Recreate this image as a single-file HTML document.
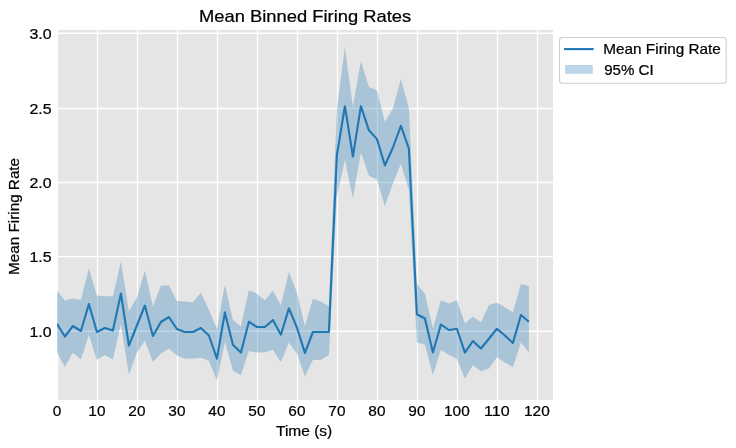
<!DOCTYPE html>
<html><head><meta charset="utf-8"><title>Mean Binned Firing Rates</title>
<style>
html,body{margin:0;padding:0;background:#fff;}
body{width:736px;height:448px;overflow:hidden;font-family:"Liberation Sans",sans-serif;}
svg{display:block;will-change:transform;}
text{font-family:"Liberation Sans",sans-serif;fill:#000000;stroke:#000000;stroke-width:0.22px;}
.tick text{font-size:14.1px;}
</style></head><body>
<svg width="736" height="448" viewBox="0 0 736 448">
<rect x="0" y="0" width="736" height="448" fill="#ffffff"/>
<rect x="57" y="30" width="496" height="370" fill="#e5e5e5"/>
<g stroke="#ffffff" stroke-width="1.3"><line x1="57.5" y1="30" x2="57.5" y2="400"/><line x1="97.5" y1="30" x2="97.5" y2="400"/><line x1="137.5" y1="30" x2="137.5" y2="400"/><line x1="177.5" y1="30" x2="177.5" y2="400"/><line x1="217.5" y1="30" x2="217.5" y2="400"/><line x1="257.5" y1="30" x2="257.5" y2="400"/><line x1="297.5" y1="30" x2="297.5" y2="400"/><line x1="337.5" y1="30" x2="337.5" y2="400"/><line x1="377.5" y1="30" x2="377.5" y2="400"/><line x1="417.5" y1="30" x2="417.5" y2="400"/><line x1="457.5" y1="30" x2="457.5" y2="400"/><line x1="497.5" y1="30" x2="497.5" y2="400"/><line x1="537.5" y1="30" x2="537.5" y2="400"/><line x1="57" y1="331.25" x2="553" y2="331.25"/><line x1="57" y1="256.6" x2="553" y2="256.6"/><line x1="57" y1="182.5" x2="553" y2="182.5"/><line x1="57" y1="108.5" x2="553" y2="108.5"/><line x1="57" y1="33.25" x2="553" y2="33.25"/></g>
<clipPath id="c"><rect x="57" y="30" width="496" height="370"/></clipPath>
<g clip-path="url(#c)">
<polygon points="56.90,290.40 64.90,300.40 72.90,298.50 80.90,300.00 88.90,268.50 96.90,295.40 104.90,296.25 112.90,296.25 120.90,261.60 128.90,311.50 136.90,297.40 144.90,270.60 152.90,306.50 160.90,285.50 168.90,285.50 176.90,301.00 184.90,301.50 192.90,302.20 200.90,292.70 208.90,309.80 216.90,329.00 224.90,284.80 232.90,320.00 240.90,326.50 248.90,290.30 256.90,293.70 264.90,300.30 272.90,290.50 280.90,305.60 288.90,271.80 296.90,292.50 304.90,326.25 312.90,298.90 320.90,301.60 328.90,306.25 336.90,108.50 344.90,47.40 352.90,106.80 360.90,61.10 368.90,87.00 376.90,90.20 384.90,121.90 392.90,108.50 400.90,79.20 408.90,108.30 416.90,284.00 424.90,293.80 432.90,328.20 440.90,300.30 448.90,303.50 456.90,300.20 464.90,323.50 472.90,316.40 480.90,322.20 488.90,304.90 496.90,302.80 504.90,307.30 512.90,312.30 520.90,284.00 528.90,286.00 528.90,352.50 520.90,342.50 512.90,367.00 504.90,362.50 496.90,357.20 488.90,368.50 480.90,371.30 472.90,365.00 464.90,378.80 456.90,358.80 448.90,355.00 440.90,349.70 432.90,375.00 424.90,344.70 416.90,342.50 408.90,190.00 400.90,163.80 392.90,183.50 384.90,206.00 376.90,179.40 368.90,175.70 360.90,152.30 352.90,198.50 344.90,160.00 336.90,196.50 328.90,355.10 320.90,359.80 312.90,360.00 304.90,376.30 296.90,353.40 288.90,342.60 280.90,362.00 272.90,349.70 264.90,352.20 256.90,352.60 248.90,351.00 240.90,375.10 232.90,370.50 224.90,342.00 216.90,380.50 208.90,360.80 200.90,357.80 192.90,358.40 184.90,358.70 176.90,355.50 168.90,348.50 160.90,353.50 152.90,362.00 144.90,340.80 136.90,352.60 128.90,375.00 120.90,324.00 112.90,359.50 104.90,355.10 96.90,360.10 88.90,335.00 80.90,359.50 72.90,352.60 64.90,367.00 56.90,352.00" fill="#1f77b4" fill-opacity="0.3"/>
<polyline points="56.90,323.75 64.90,336.50 72.90,326.00 80.90,331.00 88.90,304.00 96.90,332.00 104.90,328.00 112.90,330.50 120.90,293.60 128.90,345.50 136.90,325.50 144.90,305.50 152.90,336.00 160.90,322.00 168.90,317.00 176.90,329.00 184.90,332.00 192.90,332.00 200.90,328.00 208.90,335.50 216.90,358.70 224.90,312.40 232.90,344.80 240.90,352.60 248.90,321.75 256.90,327.00 264.90,327.00 272.90,320.00 280.90,334.70 288.90,308.40 296.90,327.50 304.90,352.90 312.90,332.00 320.90,332.00 328.90,332.00 336.90,155.00 344.90,106.20 352.90,156.50 360.90,106.20 368.90,130.30 376.90,138.90 384.90,165.50 392.90,147.50 400.90,125.80 408.90,148.75 416.90,314.30 424.90,318.50 432.90,352.50 440.90,324.50 448.90,330.00 456.90,328.75 464.90,352.60 472.90,341.00 480.90,348.50 488.90,338.75 496.90,328.75 504.90,335.50 512.90,343.00 520.90,315.00 528.90,321.70" fill="none" stroke="#1f77b4" stroke-width="2.1" stroke-linejoin="round" stroke-linecap="butt"/>
</g>
<g class="tick"><text x="56.9" y="415.8" text-anchor="middle" textLength="8.55" lengthAdjust="spacingAndGlyphs">0</text><text x="96.9" y="415.8" text-anchor="middle" textLength="17.10" lengthAdjust="spacingAndGlyphs">10</text><text x="136.9" y="415.8" text-anchor="middle" textLength="17.10" lengthAdjust="spacingAndGlyphs">20</text><text x="176.9" y="415.8" text-anchor="middle" textLength="17.10" lengthAdjust="spacingAndGlyphs">30</text><text x="216.9" y="415.8" text-anchor="middle" textLength="17.10" lengthAdjust="spacingAndGlyphs">40</text><text x="256.9" y="415.8" text-anchor="middle" textLength="17.10" lengthAdjust="spacingAndGlyphs">50</text><text x="296.9" y="415.8" text-anchor="middle" textLength="17.10" lengthAdjust="spacingAndGlyphs">60</text><text x="336.9" y="415.8" text-anchor="middle" textLength="17.10" lengthAdjust="spacingAndGlyphs">70</text><text x="376.9" y="415.8" text-anchor="middle" textLength="17.10" lengthAdjust="spacingAndGlyphs">80</text><text x="416.9" y="415.8" text-anchor="middle" textLength="17.10" lengthAdjust="spacingAndGlyphs">90</text><text x="456.9" y="415.8" text-anchor="middle" textLength="25.65" lengthAdjust="spacingAndGlyphs">100</text><text x="496.9" y="415.8" text-anchor="middle" textLength="25.65" lengthAdjust="spacingAndGlyphs">110</text><text x="536.9" y="415.8" text-anchor="middle" textLength="25.65" lengthAdjust="spacingAndGlyphs">120</text><text x="51.6" y="336.50" text-anchor="end" textLength="22.09" lengthAdjust="spacingAndGlyphs">1.0</text><text x="51.6" y="261.85" text-anchor="end" textLength="22.09" lengthAdjust="spacingAndGlyphs">1.5</text><text x="51.6" y="187.75" text-anchor="end" textLength="22.09" lengthAdjust="spacingAndGlyphs">2.0</text><text x="51.6" y="113.75" text-anchor="end" textLength="22.09" lengthAdjust="spacingAndGlyphs">2.5</text><text x="51.6" y="38.50" text-anchor="end" textLength="22.09" lengthAdjust="spacingAndGlyphs">3.0</text></g>
<text x="305.1" y="21.8" text-anchor="middle" font-size="17px" textLength="212" lengthAdjust="spacingAndGlyphs">Mean Binned Firing Rates</text>
<text x="304.1" y="436" text-anchor="middle" font-size="14.1px" textLength="56.2" lengthAdjust="spacingAndGlyphs">Time (s)</text>
<text transform="translate(19.4,216.4) rotate(-90)" text-anchor="middle" font-size="14.1px" textLength="117" lengthAdjust="spacingAndGlyphs">Mean Firing Rate</text>
<rect x="559.5" y="37.5" width="166.7" height="45.8" rx="2.8" ry="2.8" fill="#ffffff" stroke="#d0d0d0" stroke-width="1.1"/>
<line x1="564" y1="49.1" x2="593.7" y2="49.1" stroke="#1f77b4" stroke-width="2.1"/>
<rect x="565" y="65" width="27.8" height="8.8" fill="#1f77b4" fill-opacity="0.3"/>
<text x="603.3" y="53.8" font-size="14.1px" textLength="117.5" lengthAdjust="spacingAndGlyphs">Mean Firing Rate</text>
<text x="604.2" y="75" font-size="14.1px" textLength="49.5" lengthAdjust="spacingAndGlyphs">95% CI</text>
</svg>
</body></html>
